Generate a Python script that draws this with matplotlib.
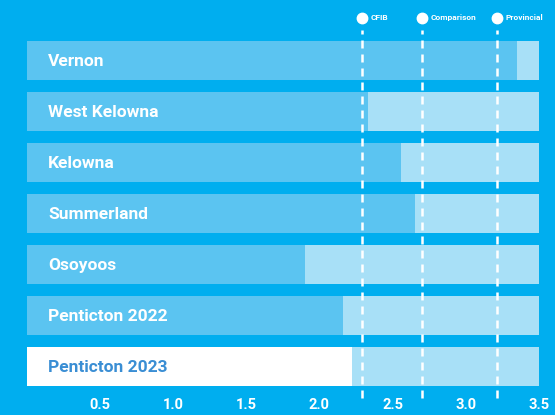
import matplotlib.pyplot as plt

# rows, top to bottom
towns = ['Vernon', 'West Kelowna', 'Kelowna', 'Summerland', 'Osoyoos',
         'Penticton 2022', 'Penticton 2023']
scores = [3.35, 2.33, 2.56, 2.65, 1.90, 2.16, 2.22]
scale_max = 3.5

ref_names = ['CFIB', 'Comparison', 'Provincial']
ref_values = [2.29, 2.70, 3.21]

tick_vals = [0.5, 1.0, 1.5, 2.0, 2.5, 3.0, 3.5]
tick_labels = ['0.5', '1.0', '1.5', '2.0', '2.5', '3.0', '3.5']

BG = '#00AEEF'
DARK = '#5BC4F1'
LIGHT = '#A8E0F7'
HILITE_TXT = '#3A8ED4'

FONT = ['Roboto', 'DejaVu Sans']


def main():
    fig = plt.figure(figsize=(5.55, 4.15), dpi=100, facecolor=BG)
    ax = fig.add_axes([0.0481, 0.0554, 0.923, 0.8602])
    ax.set_facecolor(BG)

    rows = list(range(len(towns)))
    h = 0.765
    ax.barh(rows, [scale_max] * len(rows), height=h, color=LIGHT, linewidth=0)
    colors = [DARK] * (len(rows) - 1) + ['white']
    ax.barh(rows, scores, height=h, color=colors, linewidth=0)

    for i, name in enumerate(towns):
        c = HILITE_TXT if i == len(towns) - 1 else 'white'
        ax.text(0.145, i + 0.02, name, ha='left', va='center', color=c,
                fontsize=12.5, fontweight='bold', family=FONT)

    # reference lines with legend bubbles on top
    for name, v in zip(ref_names, ref_values):
        ax.plot([v, v], [6.62, -0.6], color='white', lw=1.8,
                dashes=(3.2, 2.4), clip_on=False, zorder=3)
        ax.plot([v], [-0.83], marker='o', ms=7.5, color='white',
                clip_on=False, zorder=4)
        ax.text(v + 0.06, -0.85, name, ha='left', va='center', color='white',
                fontsize=6, fontweight='bold', family=FONT)

    ax.set_xlim(0, scale_max)
    ax.set_ylim(6.5, -0.5)
    ax.set_xticks(tick_vals)
    ax.set_xticklabels(tick_labels, color='white', fontsize=10.5,
                       fontweight='bold', family=FONT)
    ax.tick_params(axis='x', length=0, pad=4)
    ax.set_yticks([])
    for s in ax.spines.values():
        s.set_visible(False)

    fig.savefig('out.png', dpi=100, facecolor=BG)


if __name__ == '__main__':
    main()
